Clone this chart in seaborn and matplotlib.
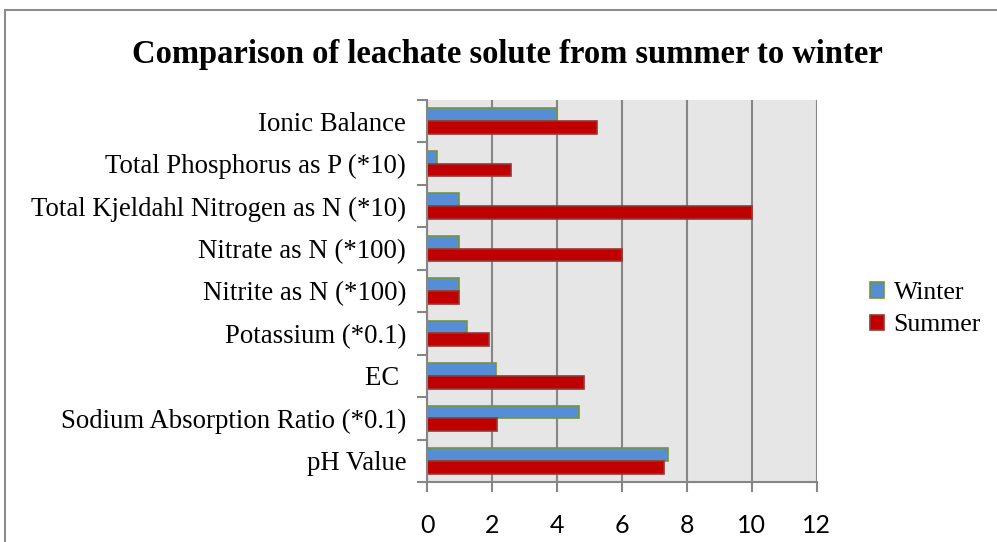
import pandas as pd
import seaborn as sns
import matplotlib.pyplot as plt
from matplotlib.patches import Rectangle
from matplotlib.ticker import FixedLocator

# values (top row first)
categories = ['Ionic Balance', 'Total Phosphorus as P (*10)',
              'Total Kjeldahl Nitrogen as N (*10)', 'Nitrate as N (*100)',
              'Nitrite as N (*100)', 'Potassium (*0.1)', 'EC ',
              'Sodium Absorption Ratio (*0.1)', 'pH Value']
winter = [4.0, 0.3, 1.0, 1.0, 1.0, 1.24, 2.11, 4.69, 7.42]
summer = [5.24, 2.59, 10.0, 6.0, 0.98, 1.92, 4.83, 2.17, 7.31]
seasons = ['Winter', 'Summer']
x_ticks = [0, 2, 4, 6, 8, 10, 12]

df = pd.DataFrame({'Parameter': categories * 2,
                   'Value': winter + summer,
                   'Season': ['Winter'] * len(winter) + ['Summer'] * len(summer)})

sns.set_style("white")
plt.rcParams['font.family'] = ['Liberation Serif', 'DejaVu Serif']
plt.rcParams['text.color'] = 'black'
plt.rcParams['xtick.labelcolor'] = 'black'
plt.rcParams['ytick.labelcolor'] = 'black'

fig = plt.figure(figsize=(9.97, 5.42), dpi=100)
ax = fig.add_axes([0.4283, 0.1107, 0.3909, 0.7048])

colors = {'Winter': '#558ED5', 'Summer': '#C00000'}
edges = {'Winter': '#77933C', 'Summer': '#953735'}

sns.barplot(data=df, y='Parameter', x='Value', hue='Season', order=categories,
            hue_order=seasons, palette=colors, saturation=1, width=0.6,
            orient='h', ax=ax, legend=True)

for cont, s in zip(ax.containers, seasons):
    for bar in cont:
        bar.set_edgecolor(edges[s])
        bar.set_linewidth(1.2)

ax.set_facecolor('#E6E6E6')
ax.set_xlim(0, 12)
ax.set_xticks(x_ticks)
ax.grid(axis='x', color='#868686', linewidth=1.5)
ax.grid(axis='y', visible=False)
ax.set_axisbelow(True)
for side in ['top', 'right']:
    ax.spines[side].set_visible(False)
for side in ['left', 'bottom']:
    ax.spines[side].set_color('#868686')
    ax.spines[side].set_linewidth(1.5)

ax.set_xlabel('')
ax.set_ylabel('')
ax.yaxis.set_minor_locator(FixedLocator([i - 0.5 for i in range(len(categories) + 1)]))
ax.tick_params(axis='y', which='major', length=0, pad=15, labelsize=19.3,
               labelcolor='black')
ax.tick_params(axis='y', which='minor', length=7, width=1.5, color='#868686', left=True)
ax.tick_params(axis='x', which='major', length=7, width=1.5, color='#868686',
               bottom=True, pad=16, labelsize=18, labelcolor='black')
for lab in ax.get_xticklabels():
    lab.set_family(['Lato', 'DejaVu Sans'])

fig.text(507 / 997, 1 - 55 / 542, 'Comparison of leachate solute from summer to winter',
         fontsize=23.5, fontweight='bold', ha='center', va='center', color='black')

leg = ax.legend(loc='center left', bbox_to_anchor=(1.137, 0.452), frameon=False,
                fontsize=18.5, handlelength=0.55, handleheight=0.55,
                handletextpad=0.36, labelspacing=0.4, borderpad=0,
                borderaxespad=0)
for h, s in zip(leg.legend_handles, seasons):
    h.set_edgecolor(edges[s])
    h.set_linewidth(1.2)
for t in leg.get_texts():
    t.set_color('black')

# chart area border
fig.patches.append(Rectangle((5 / 997, -0.1), 1.2, 1 - 10 / 542 + 0.1,
                             transform=fig.transFigure, fill=False,
                             edgecolor='#8C8C8C', linewidth=1.5))

fig.savefig('out.png', dpi=100)
